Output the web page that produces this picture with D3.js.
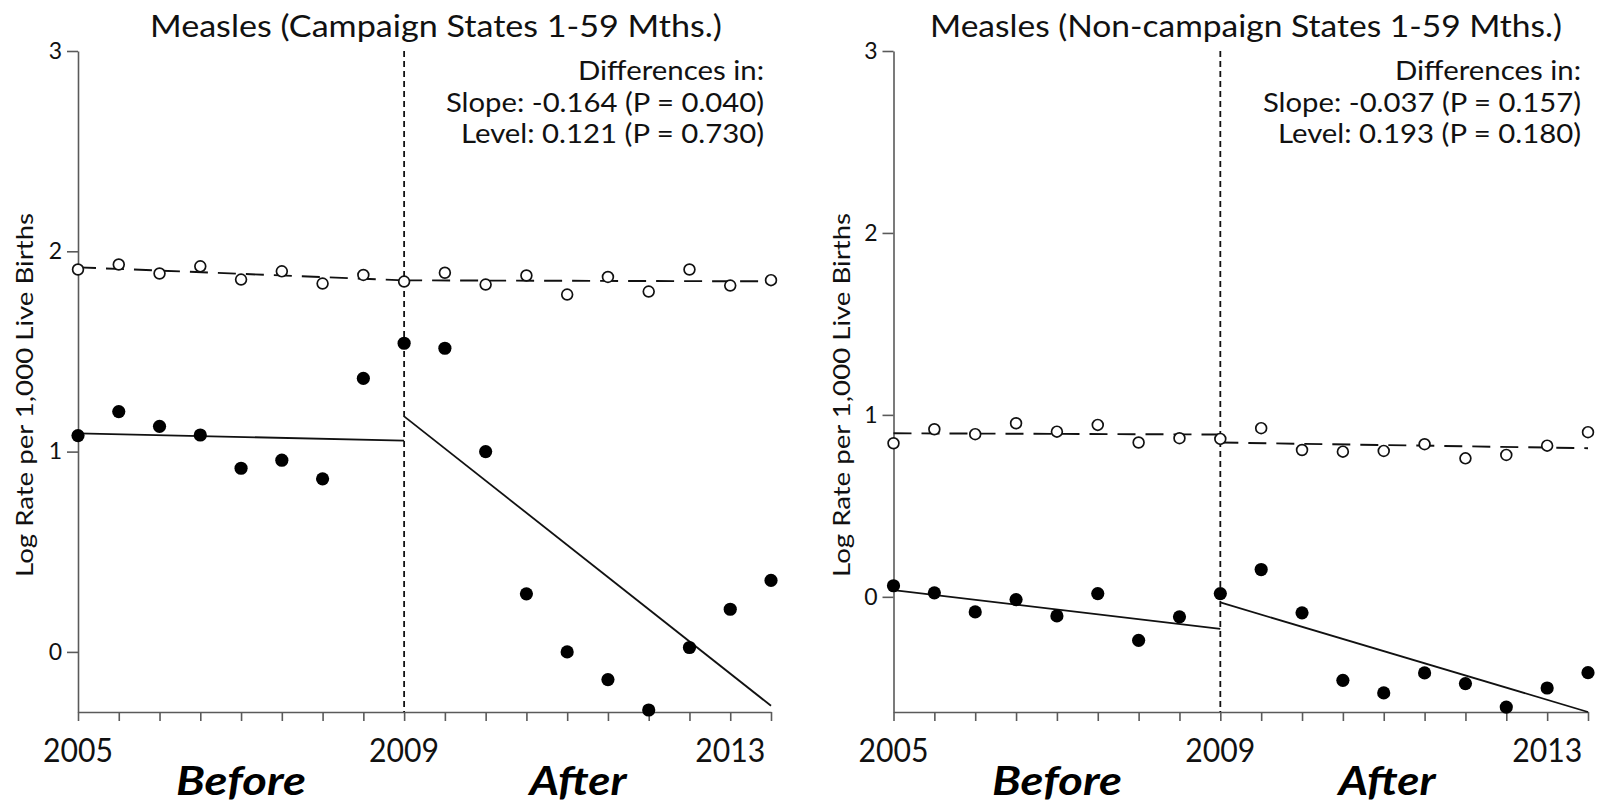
<!DOCTYPE html>
<html><head><meta charset="utf-8">
<script src="https://cdn.jsdelivr.net/npm/d3@7"></script>
<style>html,body{margin:0;padding:0;background:#fff;} svg{display:block;}</style>
</head><body>
<svg id="chart" width="1602" height="802"></svg>
<script>
// ---- data ----
const periods = [0,1,2,3,4,5,6,7,8,9,10,11,12,13,14,15,16,17]; // half-year periods from 2005
const xTickIndex = [0, 8, 16];
const xTickLabels = ["2005", "2009", "2013"];
const yTicks = [0, 1, 2, 3];
const interruptionIndex = 8;
const phaseLabels = ["Before", "After"];

const titles = ["Measles (Campaign States 1-59 Mths.)", "Measles (Non-campaign States 1-59 Mths.)"];
const yAxisLabel = "Log Rate per 1,000 Live Births";
const annotCampaign = ["Differences in:", "Slope: -0.164 (P = 0.040)", "Level: 0.121 (P = 0.730)"];
const annotNonCampaign = ["Differences in:", "Slope: -0.037 (P = 0.157)", "Level: 0.193 (P = 0.180)"];

// Campaign states
const campaignMeasles = [1.08, 1.20, 1.126, 1.083, 0.917, 0.957, 0.864, 1.366, 1.541, 1.516, 1.00, 0.29, 0.00, -0.138, -0.29, 0.022, 0.213, 0.357];
const campaignComparison = [1.909, 1.934, 1.889, 1.925, 1.859, 1.900, 1.839, 1.882, 1.849, 1.893, 1.834, 1.879, 1.784, 1.872, 1.799, 1.909, 1.829, 1.856];
const campaignMeaslesFitPre = [1.091, 1.055];
const campaignMeaslesFitPost = [1.176, -0.269];
const campaignComparisonFitPre = [1.92, 1.855];
const campaignComparisonFitPost = [1.855, 1.85];

// Non-campaign states
const nonMeasles = [0.061, 0.022, -0.083, -0.015, -0.105, 0.018, -0.239, -0.110, 0.018, 0.150, -0.088, -0.459, -0.528, -0.418, -0.477, -0.606, -0.501, -0.417];
const nonComparison = [0.844, 0.921, 0.894, 0.954, 0.908, 0.945, 0.848, 0.872, 0.868, 0.927, 0.807, 0.798, 0.802, 0.839, 0.761, 0.780, 0.831, 0.905];
const nonMeaslesFitPre = [0.037, -0.176];
const nonMeaslesFitPost = [-0.031, -0.633];
const nonComparisonFitPre = [0.899, 0.892];
const nonComparisonFitPost = [0.848, 0.817];

// ---- layout ----
const panels = [
  { left: 78, right: 771, yMin: -0.3, title: titles[0], titleX: 436, titleW: 572,
    annot: annotCampaign, annotX: 764, labelX: 33, beforeX: 241, afterX: 578,
    filled: campaignMeasles, open: campaignComparison,
    filledPre: campaignMeaslesFitPre, filledPost: campaignMeaslesFitPost,
    openPre: campaignComparisonFitPre, openPost: campaignComparisonFitPost },
  { left: 893.5, right: 1588, yMin: -0.633, title: titles[1], titleX: 1246, titleW: 632,
    annot: annotNonCampaign, annotX: 1581, labelX: 850, beforeX: 1057, afterX: 1387,
    filled: nonMeasles, open: nonComparison,
    filledPre: nonMeaslesFitPre, filledPost: nonMeaslesFitPost,
    openPre: nonComparisonFitPre, openPost: nonComparisonFitPost }
];
const annotWidths = [186, 318, 303];
const annotBaselines = [80, 111.7, 143];
const FONT = "Lato, 'Open Sans', sans-serif";
const AXIS = "#5a5a5a";
const plotTop = 51, plotBottom = 712;

const svg = d3.select("#chart");

panels.forEach(p => {
  const x = d3.scaleLinear().domain([periods[0], periods[periods.length - 1]]).range([p.left, p.right]);
  const y = d3.scaleLinear().domain([p.yMin, 3]).range([plotBottom, plotTop]);
  const g = svg.append("g");

  // y axis
  const ya = g.append("g").attr("transform", `translate(${p.left},0)`)
    .call(d3.axisLeft(y).tickValues(yTicks).tickSize(11).tickSizeOuter(0).tickPadding(5).tickFormat(d3.format("d")));
  ya.select(".domain").attr("stroke", AXIS).attr("stroke-width", 1.6);
  ya.selectAll(".tick line").attr("stroke", AXIS).attr("stroke-width", 1.6);
  ya.selectAll(".tick text").attr("font-family", FONT).attr("font-size", 23).attr("fill", "#111");

  // x axis
  const xa = g.append("g").attr("transform", `translate(0,${plotBottom})`)
    .call(d3.axisBottom(x).tickValues(periods).tickSize(9).tickSizeOuter(0).tickFormat(""));
  xa.select(".domain").attr("stroke", AXIS).attr("stroke-width", 1.6);
  xa.selectAll(".tick line").attr("stroke", AXIS).attr("stroke-width", 1.6);

  g.selectAll(".xlab").data(xTickIndex).enter().append("text")
    .attr("x", d => x(d)).attr("y", 762).attr("text-anchor", "middle")
    .attr("font-family", FONT).attr("font-size", 32.5).attr("fill", "#111")
    .attr("textLength", 70).attr("lengthAdjust", "spacingAndGlyphs")
    .text((d, i) => xTickLabels[i]);

  // interruption line
  g.append("line")
    .attr("x1", x(interruptionIndex)).attr("x2", x(interruptionIndex))
    .attr("y1", y(3)).attr("y2", y(p.yMin))
    .attr("stroke", "#111").attr("stroke-width", 1.8).attr("stroke-dasharray", "6,4");

  const line = d3.line().x(d => x(d[0])).y(d => y(d[1]));
  const seg = (vals, i0, i1) => [[i0, vals[0]], [i1, vals[1]]];

  // comparison fitted (dashed)
  [seg(p.openPre, 0, interruptionIndex), seg(p.openPost, interruptionIndex, 17)].forEach(s => {
    g.append("path").attr("d", line(s)).attr("fill", "none").attr("stroke", "#111")
      .attr("stroke-width", 1.9).attr("stroke-dasharray", "18,10");
  });
  // measles fitted (solid)
  [seg(p.filledPre, 0, interruptionIndex), seg(p.filledPost, interruptionIndex, 17)].forEach(s => {
    g.append("path").attr("d", line(s)).attr("fill", "none").attr("stroke", "#111")
      .attr("stroke-width", 1.8);
  });

  // open points
  g.selectAll(".open").data(p.open).enter().append("circle")
    .attr("cx", (d, i) => x(periods[i])).attr("cy", d => y(d)).attr("r", 5.4)
    .attr("fill", "#fff").attr("stroke", "#111").attr("stroke-width", 1.7);
  // filled points
  g.selectAll(".filled").data(p.filled).enter().append("circle")
    .attr("cx", (d, i) => x(periods[i])).attr("cy", d => y(d)).attr("r", 6.6)
    .attr("fill", "#000");

  // title
  g.append("text").attr("x", p.titleX).attr("y", 37).attr("text-anchor", "middle")
    .attr("font-family", FONT).attr("font-size", 30).attr("fill", "#111")
    .attr("textLength", p.titleW).attr("lengthAdjust", "spacingAndGlyphs")
    .text(p.title);

  // annotation
  p.annot.forEach((t, i) => {
    g.append("text").attr("x", p.annotX).attr("y", annotBaselines[i]).attr("text-anchor", "end")
      .attr("font-family", FONT).attr("font-size", 26.5).attr("fill", "#111")
      .attr("textLength", annotWidths[i]).attr("lengthAdjust", "spacingAndGlyphs")
      .text(t);
  });

  // y axis label
  g.append("text").attr("transform", `translate(${p.labelX},395) rotate(-90)`)
    .attr("text-anchor", "middle").attr("font-family", FONT).attr("font-size", 23).attr("fill", "#111")
    .attr("textLength", 364).attr("lengthAdjust", "spacingAndGlyphs")
    .text(yAxisLabel);

  // phase labels
  [p.beforeX, p.afterX].forEach((cx, i) => {
    g.append("text").attr("x", cx).attr("y", 795).attr("text-anchor", "middle")
      .attr("font-family", FONT).attr("font-size", 41).attr("font-weight", "bold").attr("font-style", "italic")
      .attr("fill", "#000")
      .attr("textLength", i === 0 ? 130 : 97).attr("lengthAdjust", "spacingAndGlyphs")
      .text(phaseLabels[i]);
  });
});
</script>
</body></html>
